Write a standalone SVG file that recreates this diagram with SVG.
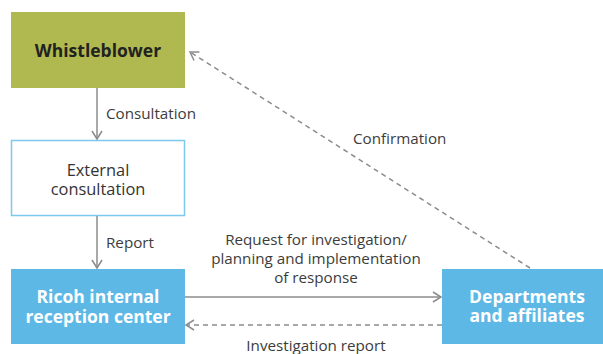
<svg xmlns="http://www.w3.org/2000/svg" width="603" height="354" viewBox="0 0 603 354">
<style>
.lbl{font-family:"Open Sans","Noto Sans",sans-serif;font-size:15.2px;fill:#3c3c3c}
.bold{font-family:"Open Sans","Noto Sans",sans-serif;font-size:17.5px;font-weight:bold}
.reg{font-family:"Open Sans","Noto Sans",sans-serif;font-size:16.4px;fill:#333}
.ln{stroke:#8c8c8c;stroke-width:1.5;fill:none}
.dash{stroke-dasharray:5,4}
</style>
<defs>
<marker id="ah" markerWidth="12" markerHeight="12" refX="10" refY="6" orient="auto" markerUnits="userSpaceOnUse">
<path d="M2,1 L10,6 L2,11" fill="none" stroke="#8c8c8c" stroke-width="1.5"/>
</marker>
</defs>
<g id="whistleblower">
<rect x="11" y="12" width="174" height="76" fill="#b0b94f"/>
<text class="bold" x="98" y="57" text-anchor="middle" fill="#222">Whistleblower</text>
</g>
<g id="external">
<rect x="11.5" y="140.5" width="173" height="75" fill="#fff" stroke="#7cc8ef" stroke-width="1.5"/>
<text class="reg" x="98" y="176" text-anchor="middle">External</text>
<text class="reg" x="98" y="195" text-anchor="middle">consultation</text>
</g>
<g id="ricoh">
<rect x="11" y="269" width="174" height="75" fill="#5db8e6"/>
<text class="bold" x="98" y="303" text-anchor="middle" fill="#fff">Ricoh internal</text>
<text class="bold" x="98" y="323" text-anchor="middle" fill="#fff">reception center</text>
</g>
<g id="departments">
<rect x="442" y="269" width="161" height="75" fill="#5db8e6"/>
<text class="bold" x="527" y="303" text-anchor="middle" fill="#fff">Departments</text>
<text class="bold" x="527" y="322" text-anchor="middle" fill="#fff">and affiliates</text>
</g>
<g id="connectors">
<line class="ln" x1="97" y1="88" x2="97" y2="139" marker-end="url(#ah)"/>
<line class="ln" x1="97" y1="216" x2="97" y2="268" marker-end="url(#ah)"/>
<line class="ln" x1="185" y1="297" x2="441" y2="297" marker-end="url(#ah)"/>
<line class="ln dash" x1="442" y1="325" x2="186" y2="325" marker-end="url(#ah)"/>
<line class="ln dash" x1="530" y1="268" x2="190" y2="52" marker-end="url(#ah)"/>
<text class="lbl" x="106" y="119">Consultation</text>
<text class="lbl" x="106" y="248">Report</text>
<text class="lbl" x="316" y="245" text-anchor="middle">Request for investigation/</text>
<text class="lbl" x="316" y="264" text-anchor="middle">planning and implementation</text>
<text class="lbl" x="316" y="283" text-anchor="middle">of response</text>
<text class="lbl" x="316" y="351" text-anchor="middle">Investigation report</text>
<text class="lbl" x="353" y="144">Confirmation</text>
</g>
</svg>
